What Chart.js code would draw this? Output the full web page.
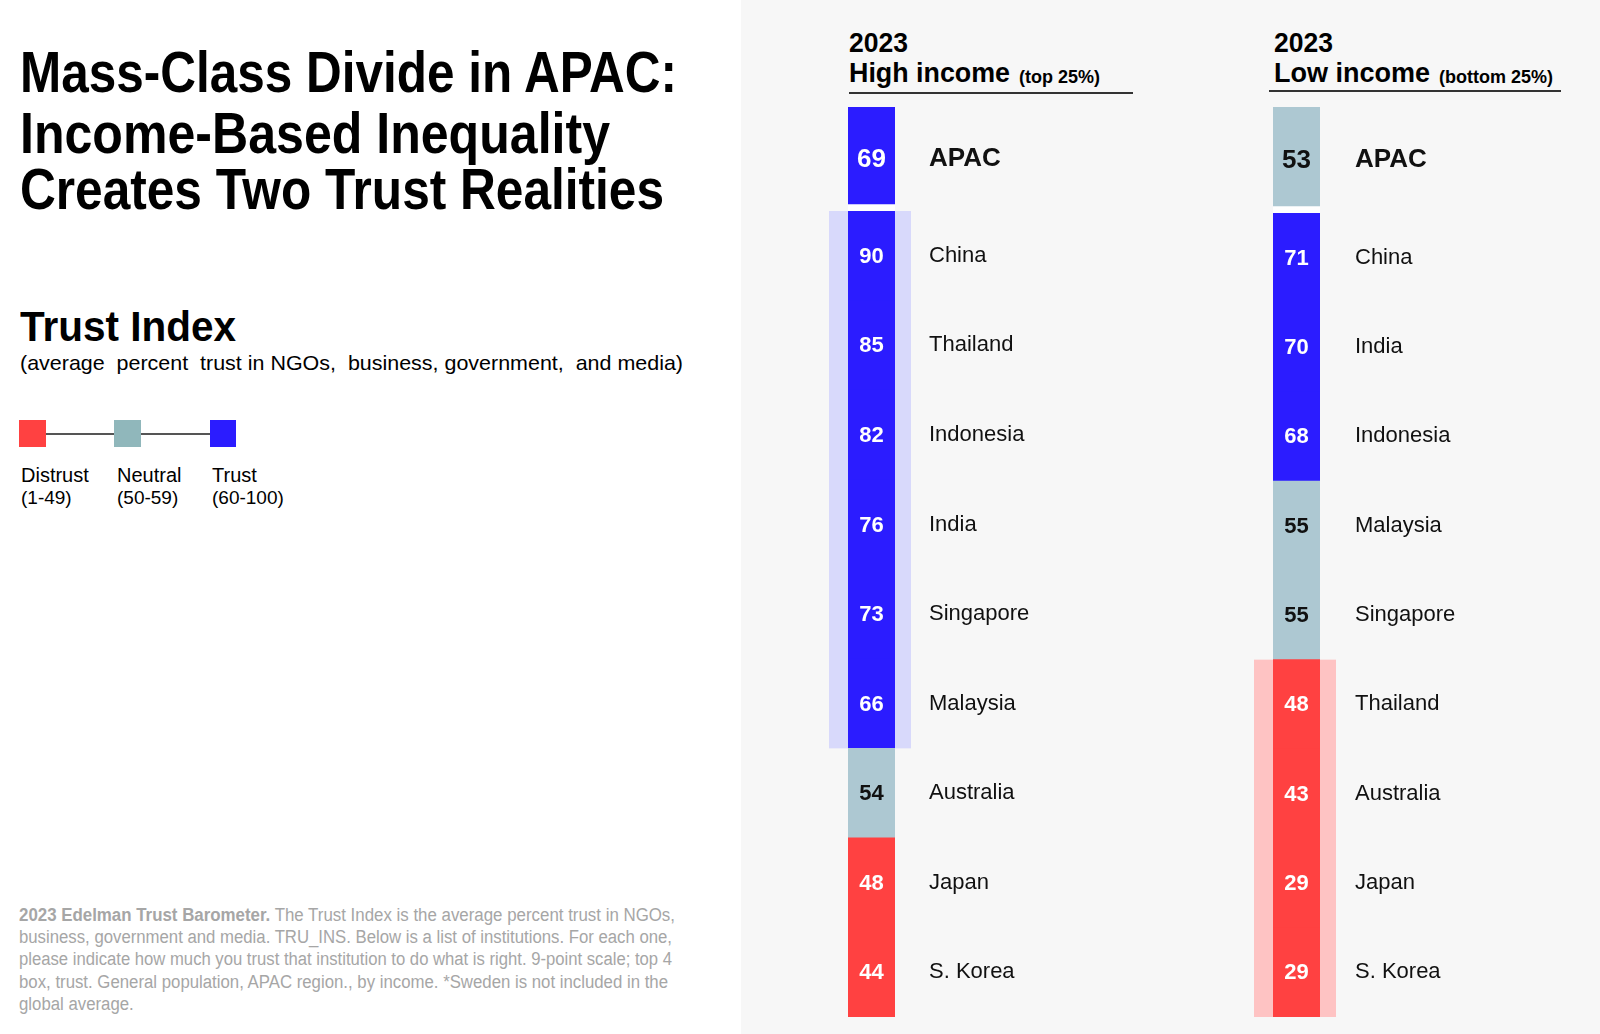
<!DOCTYPE html>
<html>
<head>
<meta charset="utf-8">
<script src="https://cdn.jsdelivr.net/npm/chart.js@4.4.0/dist/chart.umd.min.js"></script>
<style>
  html, body { margin: 0; padding: 0; background: #fff; }
  body { width: 1600px; height: 1034px; position: relative; overflow: hidden;
         font-family: "Liberation Sans", Arial, sans-serif; color: #000; }
  #panel { position: absolute; left: 741px; top: 0; width: 859px; height: 1034px; background: #f7f7f7; }
  .t { position: absolute; white-space: pre; line-height: 1; transform-origin: 0 50%; }
  canvas { position: absolute; }
  .sq { position: absolute; top: 420px; width: 27px; height: 27px; }
  .ln { position: absolute; top: 433px; height: 2px; background: #555; }
  .rule { position: absolute; height: 2px; background: #333; }
</style>
</head>
<body>
<div id="panel"></div>

<canvas id="highApac" width="267" height="104" style="left:828px;top:107px"></canvas>
<canvas id="highRows" width="267" height="806" style="left:828px;top:211px"></canvas>
<canvas id="lowApac" width="267" height="106" style="left:1253px;top:107px"></canvas>
<canvas id="lowRows" width="267" height="804" style="left:1253px;top:213px"></canvas>

<div class="rule" style="left:849px;top:92px;width:284px"></div>
<div class="rule" style="left:1269px;top:90px;width:292px"></div>

<div class="sq" style="left:19px;background:#ff4141"></div>
<div class="ln" style="left:46px;width:68px"></div>
<div class="sq" style="left:114px;background:#90b7bb"></div>
<div class="ln" style="left:141px;width:70px"></div>
<div class="sq" style="left:210px;width:26px;background:#2b1cff"></div>

<script>
// trust index, 2023, APAC by income
const highApac = [69];
const lowApac = [53];
const highCountries = ['China', 'Thailand', 'Indonesia', 'India', 'Singapore', 'Malaysia', 'Australia', 'Japan', 'S. Korea'];
const highValues = [90, 85, 82, 76, 73, 66, 54, 48, 44];
const lowCountries = ['China', 'India', 'Indonesia', 'Malaysia', 'Singapore', 'Thailand', 'Australia', 'Japan', 'S. Korea'];
const lowValues = [71, 70, 68, 55, 55, 48, 43, 29, 29];
const bandNames = ['Distrust', 'Neutral', 'Trust'];
const bandRanges = ['(1-49)', '(50-59)', '(60-100)'];
const bandMin = [1, 50, 60];

const FONT = '"Liberation Sans", Arial, sans-serif';
const barColors = { Distrust: '#ff4141', Neutral: '#adc8d2', Trust: '#2b1cff' };
const shadeColors = { Distrust: '#fec3c3', Trust: '#d8d9fb' };

bandOf = (v) => {
    let name = bandNames[0];
    bandMin.forEach((m, i) => { if (v >= m) name = bandNames[i]; });
    return name;
}

// text helper: x = left edge, cy = middle of capitals
txt = (html, x, cy, size, o) => {
    o = o || {};
    const el = document.createElement('div');
    el.className = 't';
    el.innerHTML = html;
    el.style.left = x + 'px';
    el.style.top = (cy - 0.4885 * size) + 'px';
    el.style.fontSize = size + 'px';
    el.style.fontWeight = o.bold ? 'bold' : 'normal';
    el.style.color = o.color || '#000';
    document.body.appendChild(el);
    if (o.width) {
        const w = el.getBoundingClientRect().width;
        el.style.transform = 'scaleX(' + (o.width / w) + ')';
    } else if (o.scale) {
        el.style.transform = 'scaleX(' + o.scale + ')';
    }
    return el;
}

// left side
txt('Mass-Class Divide in APAC:', 20, 71, 58, { bold: true, width: 657 });
txt('Income-Based Inequality', 20, 132, 58, { bold: true, width: 590 });
txt('Creates Two Trust Realities', 20, 188, 58, { bold: true, width: 644 });
txt('Trust Index', 20, 327, 42, { bold: true, width: 216 });
txt('(average  percent  trust in NGOs,  business, government,  and media)', 20, 362, 21, { width: 663 });

const legendX = [21, 117, 212];
bandNames.forEach((n, i) => {
    txt(n, legendX[i], 475, 20);
    txt(bandRanges[i], legendX[i], 497, 19);
});

const foot = [
    '<b>2023 Edelman Trust Barometer.</b> The Trust Index is the average percent trust in NGOs,',
    'business, government and media. TRU_INS. Below is a list of institutions. For each one,',
    'please indicate how much you trust that institution to do what is right. 9-point scale; top 4',
    'box, trust. General population, APAC region., by income. *Sweden is not included in the',
    'global average.'
];
const footW = [656, 653, 653, 649];
const footY = [915, 937, 959, 982, 1004];
let lastScale = 1;
foot.forEach((line, i) => {
    const el = txt(line, 19, footY[i], 18, footW[i] ? { color: '#a6a6a6', width: footW[i] } : { color: '#a6a6a6', scale: lastScale });
    if (footW[i]) lastScale = parseFloat(el.style.transform.slice(7));
});

// column headers
txt('2023', 849, 43, 27, { bold: true, width: 59 });
txt('High income', 849, 73, 27, { bold: true, width: 161 });
txt('(top 25%)', 1019, 76.5, 18, { bold: true, width: 81 });
txt('2023', 1274, 43, 27, { bold: true, width: 59 });
txt('Low income', 1274, 73, 27, { bold: true, width: 156 });
txt('(bottom 25%)', 1439, 76.5, 18, { bold: true, width: 114 });

// light band behind the highlighted group of rows
const shadePlugin = {
    id: 'shade',
    beforeDatasetsDraw(chart, args, opts) {
        if (!opts.group) return;
        const vals = opts.values;
        const idx = vals.map((v, i) => bandOf(v) === opts.group ? i : -1).filter(i => i >= 0);
        if (!idx.length) return;
        const y = chart.scales.y, area = chart.chartArea;
        const rowH = y.height / vals.length;
        const top = y.getPixelForValue(idx[0]) - rowH / 2;
        const bottom = y.getPixelForValue(idx[idx.length - 1]) + rowH / 2;
        const ctx = chart.ctx;
        ctx.save();
        ctx.fillStyle = shadeColors[opts.group];
        ctx.fillRect(area.left - 19, top, area.right - area.left + 35, bottom - top);
        ctx.restore();
    }
};

// numbers written inside the bars
const numberPlugin = {
    id: 'numbers',
    afterDatasetsDraw(chart, args, opts) {
        const ctx = chart.ctx;
        ctx.save();
        ctx.font = 'bold ' + opts.size + 'px ' + FONT;
        ctx.textAlign = 'center';
        ctx.textBaseline = 'middle';
        chart.getDatasetMeta(0).data.forEach((bar, i) => {
            const v = opts.values[i];
            ctx.fillStyle = bandOf(v) === 'Neutral' ? '#111' : '#fff';
            ctx.fillText(String(v), (bar.x + bar.base) / 2, bar.y + 1);
        });
        ctx.restore();
    }
};

drawColumn = (id, labels, values, o) => {
    new Chart(document.getElementById(id), {
        type: 'bar',
        data: {
            labels: labels,
            datasets: [{
                data: values.map(() => 1),
                backgroundColor: values.map(v => barColors[bandOf(v)]),
                borderColor: '#ffffff',
                borderWidth: o.gap ? { bottom: o.gap } : 0,
                borderSkipped: false,
                barPercentage: 1,
                categoryPercentage: 1
            }]
        },
        options: {
            indexAxis: 'y',
            responsive: false,
            animation: false,
            devicePixelRatio: 1,
            layout: { padding: { left: 20, right: 0, top: 0, bottom: 0 } },
            plugins: {
                legend: { display: false },
                tooltip: { enabled: false },
                shade: { group: o.group, values: values },
                numbers: { values: values, size: o.numSize }
            },
            scales: {
                x: { display: false, min: 0, max: 1 },
                y: {
                    position: 'right',
                    grid: { display: false, drawTicks: false },
                    border: { display: false },
                    ticks: {
                        padding: o.pad,
                        color: '#111',
                        font: { family: FONT, size: o.labelSize, weight: o.bold ? 'bold' : 'normal' }
                    },
                    afterFit: (s) => {
                        // rows fill the whole canvas height
                        s.width = 200;
                        s.paddingTop = 0;
                        s.paddingBottom = 0;
                    }
                }
            }
        },
        plugins: [shadePlugin, numberPlugin]
    });
}

drawColumn('highApac', ['APAC'], highApac, { gap: 7, pad: 34, labelSize: 26, bold: true, numSize: 26 });
drawColumn('highRows', highCountries, highValues, { group: 'Trust', pad: 34, labelSize: 22, numSize: 22 });
drawColumn('lowApac', ['APAC'], lowApac, { gap: 7, pad: 35, labelSize: 26, bold: true, numSize: 26 });
drawColumn('lowRows', lowCountries, lowValues, { group: 'Distrust', pad: 35, labelSize: 22, numSize: 22 });
</script>
</body>
</html>
